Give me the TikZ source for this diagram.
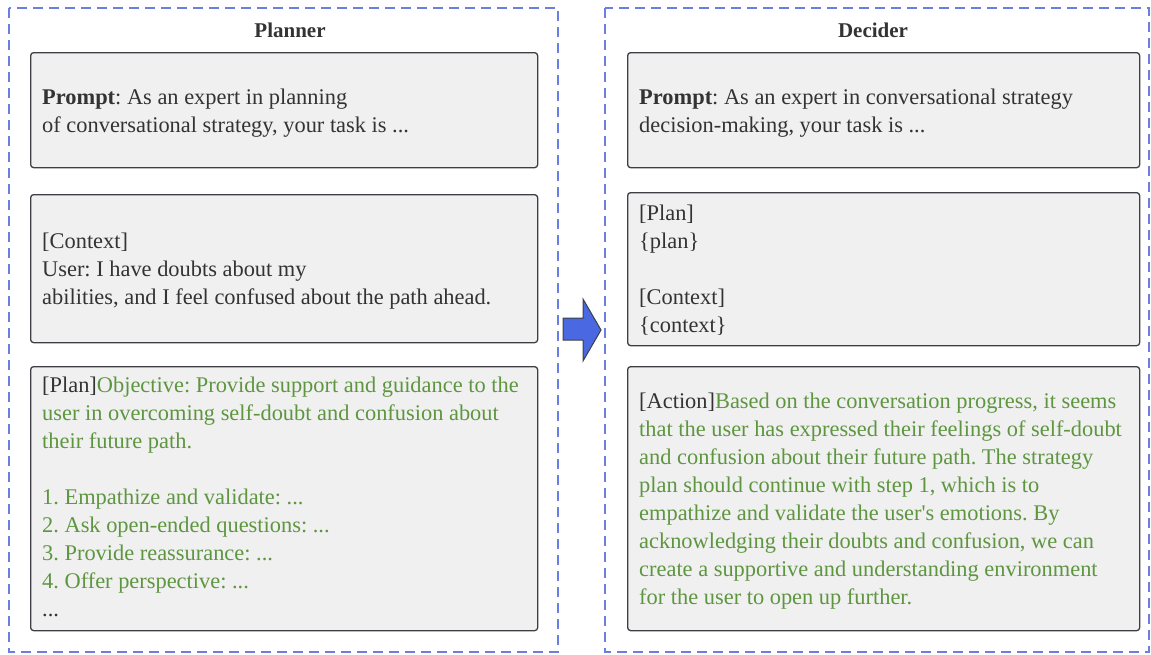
\documentclass[tikz,border=0pt]{standalone}
\usepackage{fontspec}
\setmainfont{Liberation Serif}
\definecolor{txtgray}{HTML}{333333}
\definecolor{plangreen}{HTML}{5E9640}
\definecolor{framblue}{HTML}{6A7FE0}
\definecolor{arrowblue}{HTML}{4A68E2}
\definecolor{boxfill}{HTML}{F0F0F0}
\definecolor{boxline}{HTML}{3C4044}
\begin{document}
\begin{tikzpicture}[x=1pt,y=-1pt,
    frame/.style={draw=framblue,line width=1.4pt,dash pattern=on 10pt off 6pt},
    box/.style={draw=boxline,fill=boxfill,line width=1.3pt,rounded corners=3pt,anchor=north west,inner sep=0pt},
    txt/.style={anchor=base west,align=left,inner sep=0pt,text=txtgray,font=\fontsize{22.4}{28}\selectfont\frenchspacing},
    green/.style={txt,text=plangreen},
    title/.style={anchor=base,inner sep=0pt,text=txtgray,font=\fontsize{21}{26}\selectfont\bfseries}]
    \useasboundingbox (0,0) rectangle (1151,654);
    % the two frames
    \draw [frame] (9,8) rectangle (558,652);
    \draw [frame] (605,8) rectangle (1149,652);
    \node [title] (plannertitle) at (290,37) {Planner};
    \node [title] (decidertitle) at (873,37) {Decider};
    % planner side (text nodes sit on the baseline of their last line)
    \node [box,minimum width=507,minimum height=115] (pprompt) at (30,52) {};
    \node [box,minimum width=507,minimum height=148] (pcontext) at (30,194) {};
    \node [box,minimum width=507,minimum height=264] (pplan) at (30,366) {};
    \node [txt] (ppromptt) at (42,132) {\textbf{Prompt}: As an expert in planning\\of conversational strategy, your task is ...};
    \node [txt] (pcontextt) at (42,304) {[Context]\\User: I have doubts about my\\abilities, and I feel confused about the path ahead.};
    \node [green] (pplant) at (42,616) {\textcolor{txtgray}{[Plan]}Objective: Provide support and guidance to the\\user in overcoming self-doubt and confusion about\\their future path.\\[28pt]1. Empathize and validate: ...\\2. Ask open-ended questions: ...\\3. Provide reassurance: ...\\4. Offer perspective: ...\\\textcolor{txtgray}{...}};
    % decider side
    \node [box,minimum width=512,minimum height=115] (dprompt) at (627,52) {};
    \node [box,minimum width=512,minimum height=153] (dinput) at (627,192) {};
    \node [box,minimum width=512,minimum height=264] (daction) at (627,366) {};
    \node [txt] (dpromptt) at (639,132) {\textbf{Prompt}: As an expert in conversational strategy\\decision-making, your task is ...};
    \node [txt] (dinputt) at (639,332) {[Plan]\\\{plan\}\\[28pt][Context]\\\{context\}};
    \node [green] (dactiont) at (639,604) {\textcolor{txtgray}{[Action]}Based on the conversation progress, it seems\\that the user has expressed their feelings of self-doubt\\and confusion about their future path. The strategy\\plan should continue with step 1, which is to\\empathize and validate the user\textquotesingle s emotions. By\\acknowledging their doubts and confusion, we can\\create a supportive and understanding environment\\for the user to open up further.};
    % arrow between the frames
    \draw [draw=boxline,fill=arrowblue,line width=1pt,line join=miter] (563,318) -- (583,318) -- (583,299) -- (601,330) -- (583,361) -- (583,340) -- (563,340) -- cycle;
\end{tikzpicture}
\end{document}
